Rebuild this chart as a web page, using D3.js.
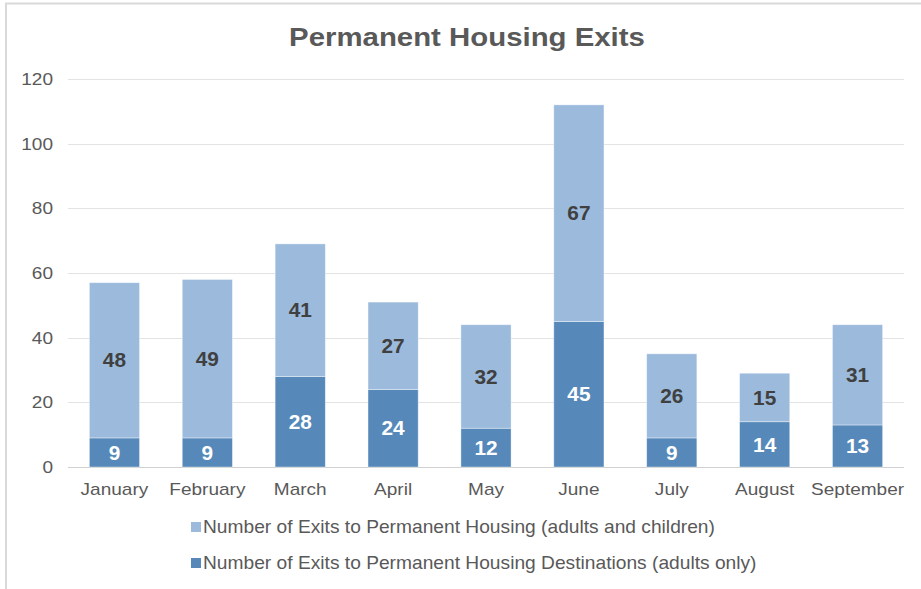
<!DOCTYPE html>
<html>
<head>
<meta charset="utf-8">
<script src="https://cdn.jsdelivr.net/npm/d3@7"></script>
<style>
    body { margin: 0; background: #fff; }
    svg { font-family: "Liberation Sans", Arial, sans-serif; }
</style>
</head>
<body>
<div id="chart"></div>
<script>
// Permanent Housing Exits - stacked bars by month

const months = ['January', 'February', 'March', 'April', 'May', 'June', 'July', 'August', 'September'];
const adultsOnly = [9, 9, 28, 24, 12, 45, 9, 14, 13];
const adultsAndChildren = [48, 49, 41, 27, 32, 67, 26, 15, 31];
const yTicks = [0, 20, 40, 60, 80, 100, 120];

const seriesNames = {
    adults: 'Number of Exits to Permanent Housing Destinations (adults only)',
    family: 'Number of Exits to Permanent Housing (adults and children)'
};

const width = 921;
const height = 589;
const margin = { top: 79, right: 17, bottom: 122, left: 68 };

const darkBlue = '#5689BA';
const lightBlue = '#9BBADC';
const textGrey = '#595959';

// the source text is a bit wider than Liberation Sans, stretch around the anchor x
function stretchX(sel, sx) {
    sel.each(function() {
        const t = d3.select(this);
        const ax = +t.attr('x') || 0;
        t.attr('transform', `translate(${ax},0) scale(${sx},1) translate(${-ax},0)`);
    });
}

const svg = d3.select('#chart').append('svg')
    .attr('width', width)
    .attr('height', height);

// outer frame (top + left edges visible)
svg.append('path')
    .attr('d', `M6,${height} V3.5 H${width}`)
    .attr('fill', 'none')
    .attr('stroke', '#d9d9d9')
    .attr('stroke-width', 2);

const x = d3.scaleBand()
    .domain(months)
    .range([margin.left, width - margin.right])
    .paddingInner(0.46)
    .paddingOuter(0.23);

const y = d3.scaleLinear()
    .domain([0, 120])
    .range([height - margin.bottom, margin.top]);

// gridlines
svg.append('g')
    .selectAll('line')
    .data(yTicks)
    .enter()
    .append('line')
    .attr('x1', margin.left)
    .attr('x2', width - margin.right)
    .attr('y1', d => Math.round(y(d)) + 0.5)
    .attr('y2', d => Math.round(y(d)) + 0.5)
    .attr('stroke', d => d === 0 ? '#d0d0d0' : '#e3e3e3')
    .attr('stroke-width', 1);

// y axis labels
const yAxis = d3.axisLeft(y).tickValues(yTicks).tickSize(0).tickPadding(15);
svg.append('g')
    .attr('transform', `translate(${margin.left},0)`)
    .call(yAxis)
    .call(g => g.select('.domain').remove())
    .selectAll('text')
    .attr('fill', textGrey)
    .attr('font-size', '17px')
    .attr('font-family', '"Liberation Sans", Arial, sans-serif')
    .call(stretchX, 1.12);

// x axis labels
const xAxis = d3.axisBottom(x).tickSize(0).tickPadding(16);
svg.append('g')
    .attr('transform', `translate(0,${height - margin.bottom})`)
    .call(xAxis)
    .call(g => g.select('.domain').remove())
    .selectAll('text')
    .attr('fill', textGrey)
    .attr('font-size', '17px')
    .attr('font-family', '"Liberation Sans", Arial, sans-serif')
    .call(stretchX, 1.12);

const rows = months.map((m, i) => ({
    month: m,
    adults: adultsOnly[i],
    family: adultsAndChildren[i]
}));

const stack = d3.stack().keys(['adults', 'family']);
const stacked = stack(rows);
const colors = { adults: darkBlue, family: lightBlue };
const labelColors = { adults: '#ffffff', family: '#404040' };

const layers = svg.selectAll('.layer')
    .data(stacked)
    .enter()
    .append('g')
    .attr('class', 'layer');

layers.selectAll('rect')
    .data(d => d.map(p => ({ key: d.key, p })))
    .enter()
    .append('rect')
    .attr('x', d => x(d.p.data.month))
    .attr('width', x.bandwidth())
    .attr('y', d => y(d.p[1]))
    .attr('height', d => y(d.p[0]) - y(d.p[1]))
    .attr('fill', d => colors[d.key])
    .attr('stroke', '#ffffff')
    .attr('stroke-opacity', 0.5)
    .attr('stroke-width', 0.75);

layers.selectAll('text')
    .data(d => d.map(p => ({ key: d.key, p })))
    .enter()
    .append('text')
    .attr('x', d => x(d.p.data.month) + x.bandwidth() / 2)
    .attr('y', d => (y(d.p[0]) + y(d.p[1])) / 2)
    .attr('dy', '0.36em')
    .attr('text-anchor', 'middle')
    .attr('fill', d => labelColors[d.key])
    .attr('font-size', '20px')
    .attr('font-weight', 'bold')
    .text(d => d.p[1] - d.p[0])
    .call(stretchX, 1.04);

// title
svg.append('text')
    .attr('x', 467)
    .attr('y', 46)
    .attr('text-anchor', 'middle')
    .attr('fill', textGrey)
    .attr('font-size', '26px')
    .attr('font-weight', 'bold')
    .text('Permanent Housing Exits')
    .call(stretchX, 1.13);

// legend
const legendItems = [
    { label: seriesNames.family, color: lightBlue },
    { label: seriesNames.adults, color: darkBlue }
];

const legend = svg.append('g')
    .attr('transform', 'translate(191, 527)');

const item = legend.selectAll('.legend-item')
    .data(legendItems)
    .enter()
    .append('g')
    .attr('class', 'legend-item')
    .attr('transform', (d, i) => `translate(0, ${i * 36})`);

item.append('rect')
    .attr('x', 0)
    .attr('y', -5)
    .attr('width', 10)
    .attr('height', 10)
    .attr('fill', d => d.color);

item.append('text')
    .attr('x', 12)
    .attr('y', 0)
    .attr('dy', '0.35em')
    .attr('fill', textGrey)
    .attr('font-size', '17.5px')
    .text(d => d.label)
    .call(stretchX, 1.097);
</script>
</body>
</html>
